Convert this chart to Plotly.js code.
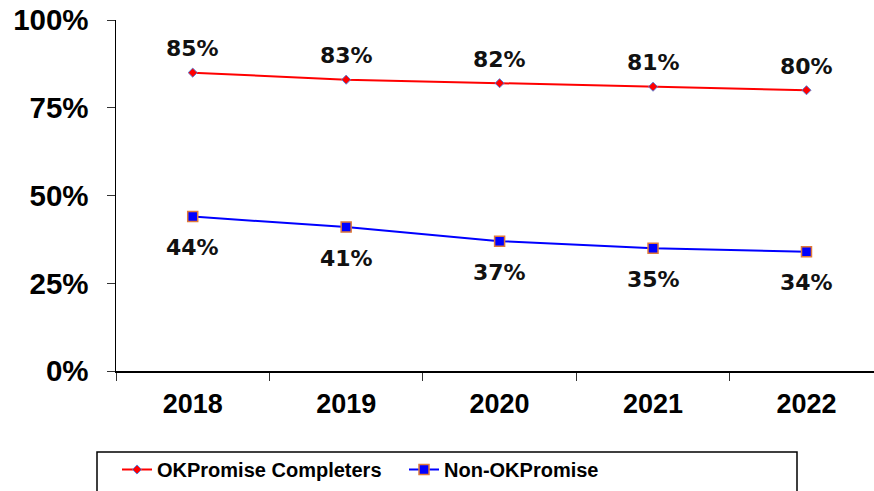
<!DOCTYPE html>
<html>
<head>
<meta charset="utf-8">
<script src="https://cdn.plot.ly/plotly-3.0.1.min.js"></script>
<style>html,body{margin:0;padding:0;background:#fff;}#chart{width:874px;height:491px;}</style>
</head>
<body>
<div id="chart"></div>
<script>
var years = ['2018', '2019', '2020', '2021', '2022'];
var completers = [85, 83, 82, 81, 80];
var nonPromise = [44, 41, 37, 35, 34];
var seriesNames = ['OKPromise Completers', 'Non-OKPromise'];
var yTickVals = [0, 25, 50, 75, 100];
var yTickText = ['0%', '25%', '50%', '75%', '100%'];

function pct(v) { return v + '%'; }

var labelFont = {family: 'DejaVu Sans, Verdana, sans-serif', size: 22, color: '#111', weight: 'bold'};

var traces = [
  {
    x: years, y: completers, name: seriesNames[0], type: 'scatter', mode: 'lines+markers',
    line: {color: '#FF0000', width: 2},
    marker: {symbol: 'diamond', size: 7, color: '#FF0000', line: {color: '#5B7FD6', width: 1}},
    cliponaxis: false
  },
  {
    x: years, y: nonPromise, name: seriesNames[1], type: 'scatter', mode: 'lines+markers',
    line: {color: '#0000FF', width: 2},
    marker: {symbol: 'square', size: 10, color: '#0000FF', line: {color: '#E07A3A', width: 1.5}},
    cliponaxis: false
  }
];

// category axis: annotation x uses the category's serial index
var annotations = [];
years.forEach(function (yr, i) {
  annotations.push({x: i, y: completers[i], xref: 'x', yref: 'y', text: pct(completers[i]),
    showarrow: false, yshift: 24, font: labelFont});
  annotations.push({x: i, y: nonPromise[i], xref: 'x', yref: 'y', text: pct(nonPromise[i]),
    showarrow: false, yshift: -31, font: labelFont});
});

var pw = 874 - 116, ph = 491 - 20 - 120;
function px2x(p) { return (p - 116) / pw; }
function px2y(p) { return (371 - p) / ph; }

var layout = {
  width: 874, height: 491,
  margin: {l: 116, r: 0, t: 20, b: 120, autoexpand: false},
  paper_bgcolor: '#fff', plot_bgcolor: '#fff',
  showlegend: true,
  annotations: annotations,
  xaxis: {
    type: 'category', range: [-0.5, 4.44],
    showline: true, linecolor: '#000', linewidth: 1.5,
    ticks: 'outside', tickson: 'boundaries', ticklen: 8, tickcolor: '#333', tickwidth: 1,
    showgrid: false, zeroline: false,
    tickfont: {family: 'Liberation Sans, Arial, sans-serif', size: 27, color: '#000', weight: 'bold'},
    ticklabelstandoff: 8
  },
  yaxis: {
    range: [0, 100], tickvals: yTickVals, ticktext: yTickText,
    showline: true, linecolor: '#000', linewidth: 1.5,
    ticks: 'outside', ticklen: 8, tickcolor: '#333', tickwidth: 1,
    showgrid: false, zeroline: false,
    tickfont: {family: 'Liberation Sans, Arial, sans-serif', size: 29.5, color: '#000', weight: 'bold'},
    ticklabelstandoff: 12
  },
  legend: {
    orientation: 'h', x: px2x(117), xanchor: 'left', y: px2y(450), yanchor: 'top',
    bgcolor: 'rgba(0,0,0,0)', borderwidth: 0,
    font: {family: 'Liberation Sans, Arial, sans-serif', size: 20, color: '#000', weight: 'bold'},
    itemwidth: 30, entrywidth: 242, tracegroupgap: 0
  },
  shapes: [{
    type: 'rect', xref: 'paper', yref: 'paper',
    x0: px2x(97), x1: px2x(797), y0: px2y(452), y1: px2y(520),
    line: {color: '#000', width: 1.5}, fillcolor: 'rgba(0,0,0,0)'
  }]
};

Plotly.newPlot('chart', traces, layout, {displayModeBar: false, staticPlot: true});
</script>
</body>
</html>
